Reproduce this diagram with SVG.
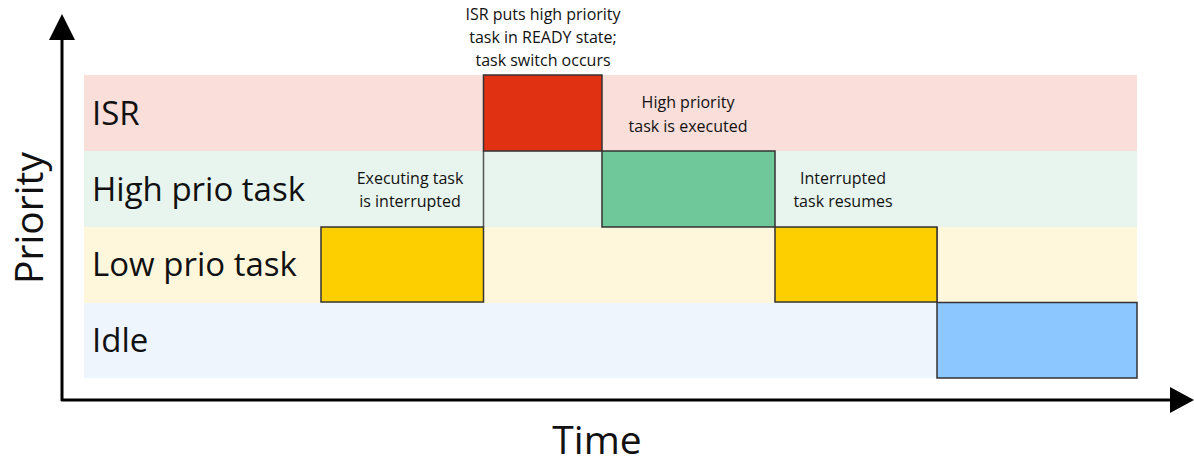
<svg xmlns="http://www.w3.org/2000/svg" width="1194" height="463" viewBox="0 0 1194 463">
<style>
.lbl{font-family:"Open Sans","Liberation Sans",sans-serif;font-size:33px;fill:#111}
.ann{font-family:"Open Sans","Liberation Sans",sans-serif;font-size:16px;fill:#111;text-anchor:middle}
.ax{font-family:"Open Sans","Liberation Sans",sans-serif;font-size:39px;fill:#111}
.blk{stroke:#333;stroke-width:1.5}
</style>
<rect width="1194" height="463" fill="#fff"/>
<g id="bands">
<rect x="84" y="75" width="1053" height="76" fill="#F9DEDA"/>
<rect x="84" y="151" width="1053" height="76" fill="#E8F5EE"/>
<rect x="84" y="227" width="1053" height="76" fill="#FFF7DC"/>
<rect x="84" y="303" width="1053" height="75" fill="#EEF5FD"/>
</g>
<g id="labels">
<text class="lbl" x="92" y="125">ISR</text>
<text class="lbl" x="92" y="201">High prio task</text>
<text class="lbl" x="92" y="276">Low prio task</text>
<text class="lbl" x="92" y="352">Idle</text>
</g>
<g id="connectors" stroke="#555" stroke-width="1.5" fill="none">
<line x1="483.5" y1="151" x2="483.5" y2="227"/>
<line x1="937" y1="227" x2="937" y2="303"/>
</g>
<g id="low1"><rect class="blk" x="321" y="227" width="162.5" height="75" fill="#FDCF00"/></g>
<g id="isr"><rect class="blk" x="483.5" y="75" width="118.5" height="76" fill="#E03112"/></g>
<g id="high"><rect class="blk" x="602" y="151" width="173" height="76" fill="#6FC89A"/></g>
<g id="low2"><rect class="blk" x="775" y="227" width="162" height="75" fill="#FDCF00"/></g>
<g id="idle"><rect class="blk" x="937" y="302.5" width="200" height="75.5" fill="#8CC7FF"/></g>
<g id="annotations">
<text class="ann" x="543" y="20">ISR puts high priority</text>
<text class="ann" x="543" y="43">task in READY state;</text>
<text class="ann" x="543" y="66">task switch occurs</text>
<text class="ann" x="688" y="108">High priority</text>
<text class="ann" x="688" y="132">task is executed</text>
<text class="ann" x="410" y="184">Executing task</text>
<text class="ann" x="410" y="207">is interrupted</text>
<text class="ann" x="843" y="184">Interrupted</text>
<text class="ann" x="843" y="207">task resumes</text>
</g>
<g id="axes">
<line x1="62" y1="401" x2="62" y2="38" stroke="#000" stroke-width="3"/>
<polygon points="62,14 75,40 49,40" fill="#000"/>
<line x1="61" y1="400" x2="1172" y2="400" stroke="#000" stroke-width="3"/>
<polygon points="1194,400 1170,387 1170,413" fill="#000"/>
<text class="ax" transform="translate(43,218) rotate(-90)" text-anchor="middle">Priority</text>
<text class="ax" x="597" y="454" text-anchor="middle">Time</text>
</g>
</svg>
